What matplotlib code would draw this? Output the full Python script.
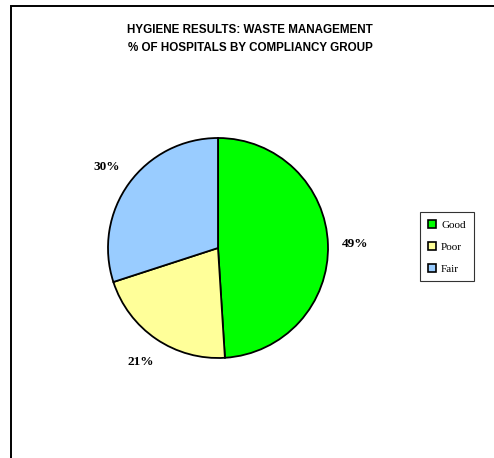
import matplotlib
matplotlib.use("Agg")
import matplotlib.pyplot as plt
from matplotlib.patches import Rectangle, Patch

# data
categories = ["Good", "Poor", "Fair"]
shares = [49, 21, 30]
colors = ["#00FF00", "#FFFF99", "#99CCFF"]
title_lines = ["HYGIENE RESULTS: WASTE MANAGEMENT",
               "% OF HOSPITALS BY COMPLIANCY GROUP"]

W, H = 494, 458
fig = plt.figure(figsize=(W / 100, H / 100), dpi=100)
fig.patch.set_facecolor("white")

# outer chart border (cut off on the right and bottom in the original)
fig.patches.append(Rectangle((10.5 / W, -0.5), 2.0, 1.5 - 5.5 / H,
                             transform=fig.transFigure, fill=False,
                             edgecolor="black", linewidth=1.4))

# pie: centre (218, 248) px, radius 110 px
cx, cy, r = 218, 248, 110
ax = fig.add_axes([(cx - r) / W, (H - cy - r) / H, 2 * r / W, 2 * r / H])
wedges, texts, autotexts = ax.pie(
    shares, colors=colors, startangle=90, counterclock=False,
    autopct="%d%%", pctdistance=1.25,
    wedgeprops=dict(edgecolor="black", linewidth=1.3))
for t in autotexts:
    t.set_fontfamily("Liberation Serif")
    t.set_fontweight("bold")
    t.set_fontsize(9.5)
ax.set_xlim(-1, 1)
ax.set_ylim(-1, 1)
ax.set_aspect("equal")

for i, line in enumerate(title_lines):
    fig.text(250 / W, 1 - (30 + 18 * i) / H, line, ha="center", va="center",
             fontfamily="Liberation Sans", fontweight="bold", fontsize=8.4)

handles = [Patch(facecolor=c, edgecolor="black", linewidth=1.2) for c in colors]
leg = fig.legend(handles, categories, loc="upper left",
                 bbox_to_anchor=(420 / W, 1 - 212 / H),
                 prop={"family": "Liberation Serif", "size": 8},
                 frameon=True, fancybox=False, handlelength=0.7,
                 handleheight=0.7, handletextpad=0.5, labelspacing=1.1,
                 borderpad=0.7, borderaxespad=0)
leg.get_frame().set_edgecolor("black")
leg.get_frame().set_linewidth(0.8)

fig.savefig("out.png", dpi=100)
